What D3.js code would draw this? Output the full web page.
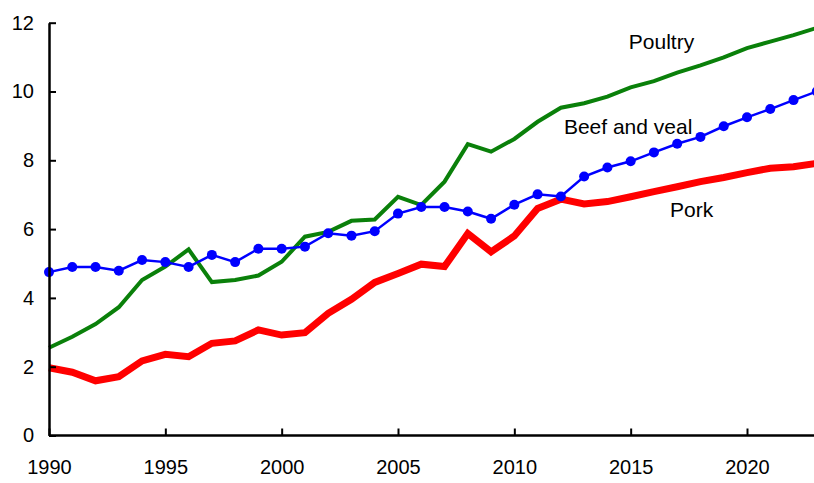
<!DOCTYPE html>
<html><head><meta charset="utf-8">
<script src="https://cdn.jsdelivr.net/npm/d3@7"></script>
<style>body{margin:0;background:#fff}svg{display:block}text{font-family:"Liberation Sans",Arial,sans-serif}</style>
</head><body><svg id="c" width="814" height="483"></svg>
<script>
const years = d3.range(1990, 2024);
const poultry = [2.55,2.87,3.24,3.73,4.52,4.91,5.41,4.46,4.52,4.65,5.05,5.78,5.92,6.24,6.28,6.94,6.70,7.38,8.47,8.25,8.62,9.12,9.53,9.66,9.85,10.12,10.30,10.55,10.76,10.99,11.26,11.45,11.64,11.85];
const beefVeal = [4.75,4.90,4.90,4.79,5.10,5.04,4.90,5.25,5.04,5.43,5.43,5.49,5.88,5.81,5.94,6.45,6.64,6.64,6.51,6.30,6.71,7.01,6.95,7.53,7.79,7.97,8.23,8.48,8.68,8.99,9.25,9.49,9.75,10.0];
const pork = [1.97,1.84,1.59,1.71,2.17,2.36,2.29,2.68,2.75,3.07,2.92,2.99,3.55,3.96,4.45,4.71,4.98,4.91,5.87,5.34,5.80,6.60,6.87,6.73,6.80,6.94,7.09,7.23,7.38,7.50,7.64,7.77,7.81,7.91];
const xTicks = [1990,1995,2000,2005,2010,2015,2020];
const yTicks = [0,2,4,6,8,10,12];
const labels = [
  {name:"Poultry", year:2014.92, value:11.23},
  {name:"Beef and veal", year:2012.13, value:8.76},
  {name:"Pork", year:2016.69, value:6.34}
];

const svg = d3.select("#c");
const x = d3.scaleLinear().domain([1990, 2023]).range([49, 816.8]);
const y = d3.scaleLinear().domain([0, 12]).range([435.5, 22.7]);

const line = vals => d3.line().x((d,i)=>x(years[i])).y(d=>y(d))(vals);

svg.append("path").attr("d", line(poultry)).attr("fill","none").attr("stroke","#0a800a").attr("stroke-width",4).attr("stroke-linejoin","miter");
svg.append("path").attr("d", line(pork)).attr("fill","none").attr("stroke","#ff0000").attr("stroke-width",7).attr("stroke-linejoin","miter");
svg.append("path").attr("d", line(beefVeal)).attr("fill","none").attr("stroke","#0000ff").attr("stroke-width",2.5);
svg.selectAll("circle.b").data(beefVeal).enter().append("circle")
  .attr("cx",(d,i)=>x(years[i])).attr("cy",d=>y(d)).attr("r",5).attr("fill","#0000ff");

// axes
const xAxis = d3.axisBottom(x).tickValues(xTicks).tickFormat(d3.format("d")).tickSizeInner(-7).tickSizeOuter(0).tickPadding(24);
const gx = svg.append("g").attr("transform","translate(0,435.5)").call(xAxis);
gx.select(".domain").attr("stroke","#000").attr("stroke-width",2.5).attr("d","M49,0H814");
gx.selectAll(".tick line").attr("stroke","#000").attr("stroke-width",2);
gx.selectAll(".tick text").attr("font-size",20).attr("fill","#000");

const yAxis = d3.axisLeft(y).tickValues(yTicks).tickSizeInner(-7).tickSizeOuter(0).tickPadding(15);
const gy = svg.append("g").attr("transform","translate(49,0)").call(yAxis);
gy.select(".domain").attr("stroke","#000").attr("stroke-width",2.5);
gy.selectAll(".tick line").attr("stroke","#000").attr("stroke-width",2);
gy.selectAll(".tick text").attr("font-size",20).attr("fill","#000");

svg.selectAll("text.lab").data(labels).enter().append("text")
  .attr("x",d=>x(d.year)).attr("y",d=>y(d.value)).attr("font-size",21).attr("fill","#000").text(d=>d.name);
</script></body></html>
